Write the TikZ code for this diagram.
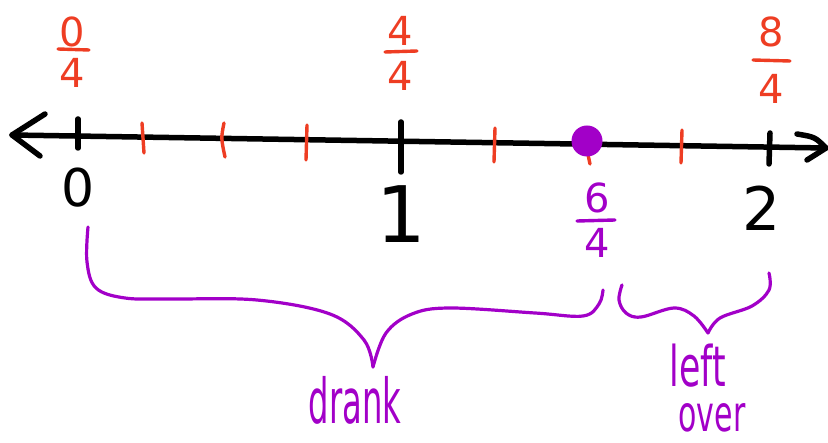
\documentclass[tikz,border=0pt]{standalone}
\usepackage{fontspec}
\setmainfont{DejaVu Sans}
\definecolor{hred}{HTML}{EE3D23}
\definecolor{hpurp}{HTML}{A200C8}
\begin{document}
\begin{tikzpicture}[x=1pt,y=-1pt,
  axisline/.style={line width=5.5pt,line cap=round,line join=round},
  blacktick/.style={line width=5.5pt,line cap=round},
  redtick/.style={hred,line width=3.4pt,line cap=round},
  bar/.style={line width=3.4pt,line cap=round},
  bracestroke/.style={hpurp,line width=3.2pt,line cap=round,line join=round},
  fracdigit/.style={inner sep=0pt,font=\fontsize{40}{42}\selectfont},
  bignum/.style={inner sep=0pt},
  word/.style={hpurp,inner sep=0pt,transform shape,anchor=base}]
\useasboundingbox (0,0) rectangle (828,443);
% axis
\coordinate (L) at (12,135);
\coordinate (R) at (826,148);
\draw[axisline] (L) -- (R);
\draw[axisline] (45,114) -- (L) -- (40,156);
\draw[axisline] (797,134) .. controls (815,137) .. (R) .. controls (815,155) .. (807,160);
% black ticks
\draw[blacktick] (78,119) -- (78,148);
\draw[blacktick] (401,122) -- (401,172);
\draw[blacktick] (770,133) -- (769,164);
% red ticks
\draw[redtick] (142,123) -- (144,153);
\draw[redtick] (224,123) .. controls (221,138) .. (225,157);
\draw[redtick] (307,125) -- (306,160);
\draw[redtick] (495,128) -- (494,162);
\draw[redtick] (587,150) -- (590,164);
\draw[redtick] (682,130) -- (681,163);
% dot
\node[circle,fill=hpurp,minimum size=31pt,inner sep=0pt] (dot) at (587,141) {};
% whole numbers
\node[bignum,font=\fontsize{52}{54}\selectfont] (n0) at (78,188) {0};
\node[bignum,font=\fontsize{78}{80}\selectfont] (n1) at (401,214) {1};
\node[bignum,font=\fontsize{60}{62}\selectfont] (n2) at (762,208) {2};
% red fractions
\node[fracdigit,hred] (a0) at (72,32) {0};
\draw[hred,bar] (58,49) -- (89,50);
\node[fracdigit,hred] (b0) at (72,73) {4};
\node[fracdigit,hred] (a4) at (400,31) {4};
\draw[hred,bar] (385,52) -- (417,51);
\node[fracdigit,hred] (b4) at (400,76) {4};
\node[fracdigit,hred] (a8) at (771,32) {8};
\draw[hred,bar] (753,60) -- (790,61);
\node[fracdigit,hred] (b8) at (771,89) {4};
% purple fraction
\node[fracdigit,hpurp] (a6) at (597,198) {6};
\draw[hpurp,bar] (577,221) -- (615,220);
\node[fracdigit,hpurp] (b6) at (597,243) {4};
% braces
\draw[bracestroke] plot[smooth,tension=0.6] coordinates {(88,227) (87,262) (96,288) (125,298) (170,299) (257,300) (330,314) (364,340) (373,367)};
\draw[bracestroke] plot[smooth,tension=0.6] coordinates {(373,367) (386,333) (412,314) (450,308) (535,313) (583,316) (599,304) (603,290)};
\draw[bracestroke] plot[smooth,tension=0.6] coordinates {(622,285) (619,300) (626,313) (641,317) (674,308) (694,316) (708,333)};
\draw[bracestroke] plot[smooth,tension=0.6] coordinates {(708,333) (720,318) (752,306) (769,290) (769,273)};
% words
\node[word,xscale=0.52,font=\fontsize{62}{64}\selectfont] (drank) at (355,424) {drank};
\node[word,xscale=0.62,font=\fontsize{56}{58}\selectfont] (left) at (698,387) {left};
\node[word,xscale=0.6,font=\fontsize{50}{52}\selectfont] (over) at (712,432) {over};
\end{tikzpicture}
\end{document}
